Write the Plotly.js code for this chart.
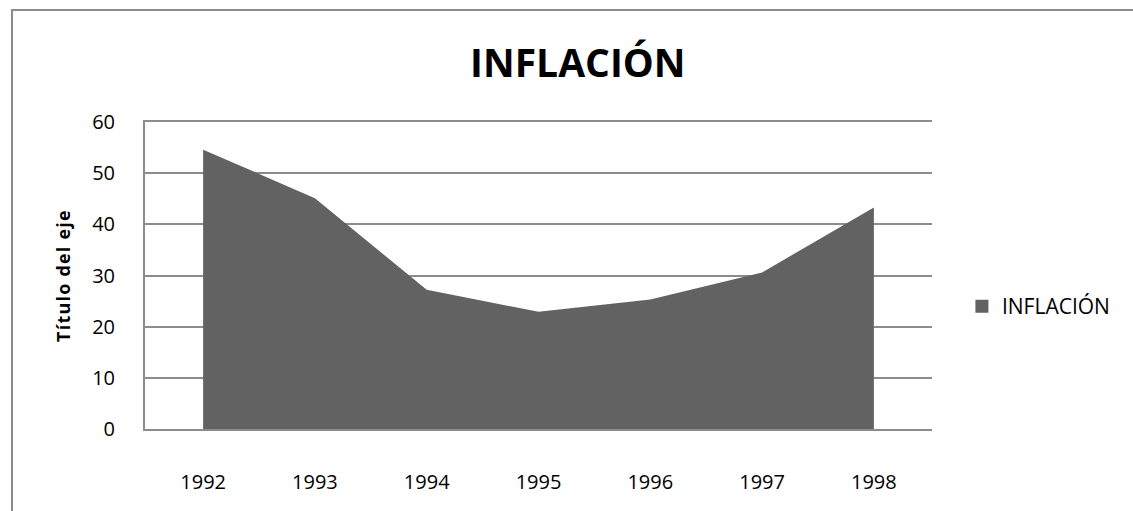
<!DOCTYPE html>
<html>
<head>
<meta charset="utf-8">
<script src="https://cdn.plot.ly/plotly-3.0.1.min.js"></script>
<style>
html,body{margin:0;padding:0;background:#fff;}
#wrap{position:relative;width:1133px;height:511px;overflow:hidden;}
#chart{position:absolute;left:0;top:0;width:1133px;height:511px;}
#frame{position:absolute;left:11px;top:9px;width:1140px;height:520px;border:2px solid #8c8c8c;box-sizing:border-box;pointer-events:none;}
#chart .annotation-text{letter-spacing:1.2px;}
</style>
</head>
<body>
<div id="wrap"><div id="chart"></div><div id="frame"></div></div>
<script>
const years = ["1992","1993","1994","1995","1996","1997","1998"];
const inflacion = [54.6, 45.1, 27.2, 22.9, 25.3, 30.6, 43.3];
const seriesName = "INFLACIÓN";
const chartTitle = "INFLACIÓN";
const yTitle = "Título del eje";

const FONT = "Open Sans, Noto Sans, sans-serif";
const AREA = "#626262";

const area = {
  type: "scatter",
  x: years,
  y: inflacion,
  name: seriesName,
  mode: "lines",
  fill: "tozeroy",
  fillcolor: AREA,
  line: {color: AREA, width: 0},
  showlegend: false
};
// legend key (square swatch) for the same series
const key = {
  type: "scatter",
  x: [null], y: [null],
  name: seriesName,
  mode: "markers",
  marker: {symbol: "square", size: 13, color: AREA},
  showlegend: true
};

const layout = {
  width: 1133, height: 511,
  margin: {l: 145, r: 201, t: 122, b: 82},
  paper_bgcolor: "rgba(0,0,0,0)",
  plot_bgcolor: "#fff",
  font: {family: FONT, size: 18, color: "#000"},
  title: {text: "<b>" + chartTitle + "</b>", font: {family: FONT, size: 39, color: "#000"}, x: 0.51, xanchor: "center", y: 0.877, yanchor: "middle"},
  xaxis: {
    type: "category",
    range: [-0.52, 6.52],
    showgrid: false,
    zeroline: false,
    showline: true, linecolor: "#8c8c8c", linewidth: 2, mirror: true,
    ticks: "",
    ticklabelstandoff: 34,
    tickfont: {family: FONT, size: 20},
    fixedrange: true
  },
  yaxis: {
    range: [0, 60],
    dtick: 10,
    showgrid: true, gridcolor: "#8c8c8c", gridwidth: 2,
    zeroline: false,
    showline: true, linecolor: "#8c8c8c", linewidth: 2,
    ticks: "",
    ticklabelstandoff: 24,
    tickfont: {family: FONT, size: 20},
    fixedrange: true
  },
  annotations: [{
    text: "<b>" + yTitle + "</b>", textangle: -90,
    xref: "paper", yref: "paper", x: (62 - 145) / 787, y: 0.5,
    xanchor: "center", yanchor: "middle", showarrow: false,
    font: {family: FONT, size: 18, color: "#000"}
  }],
  showlegend: true,
  legend: {
    xref: "container", yref: "container",
    x: 0.849, y: 0.4, xanchor: "left", yanchor: "middle",
    font: {family: FONT, size: 21},
    bgcolor: "rgba(0,0,0,0)",
    itemwidth: 30
  }
};

Plotly.newPlot("chart", [area, key], layout, {displayModeBar: false, staticPlot: true});
</script>
</body>
</html>
